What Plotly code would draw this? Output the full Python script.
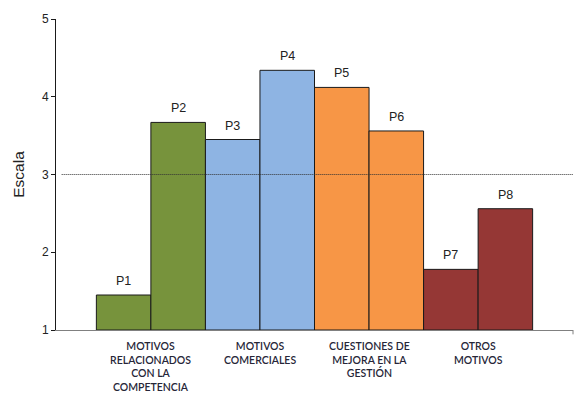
import plotly.graph_objects as go

# Scores per item, grouped two items per category
items = ["P1", "P2", "P3", "P4", "P5", "P6", "P7", "P8"]
scores = [1.45, 3.67, 3.45, 4.34, 4.12, 3.56, 1.78, 2.56]
categories = [
    "MOTIVOS<br>RELACIONADOS<br>CON LA<br>COMPETENCIA",
    "MOTIVOS<br>COMERCIALES",
    "CUESTIONES DE<br>MEJORA EN LA<br>GESTIÓN",
    "OTROS<br>MOTIVOS",
]
category_colors = ["#77933C", "#8EB4E3", "#F79646", "#953735"]
reference_level = 3

positions = list(range(len(items)))
bar_colors = [category_colors[i // 2] for i in positions]

SANS = "Liberation Sans"

fig = go.Figure(
    go.Bar(
        x=positions,
        y=[s - 1 for s in scores],
        base=1,
        width=1,
        marker=dict(color=bar_colors, line=dict(color="#1a1a1a", width=1)),
        hoverinfo="skip",
    )
)

# Item labels above each bar
for x, s, name in zip(positions, scores, items):
    fig.add_annotation(
        x=x, y=s, text=name, showarrow=False, yanchor="bottom", yshift=5,
        font=dict(family=SANS, size=12.5, color="#222222"),
    )

# Category labels under each pair of bars
for k, cat in enumerate(categories):
    fig.add_annotation(
        x=2 * k + 0.5, y=0, yref="paper", text=cat, showarrow=False,
        yanchor="top", yshift=-8, align="center",
        font=dict(family="Lato", size=10.5, color="#262638", weight=600),
    )

# Reference level
fig.add_shape(
    type="line", xref="paper", x0=0.011, x1=1, y0=reference_level, y1=reference_level,
    line=dict(color="#333333", width=1, dash="1px,1px"), layer="above",
)
# Closing tick at the end of the category axis
fig.add_shape(
    type="line", xref="paper", yref="paper", x0=1, x1=1, y0=0, y1=-0.014,
    line=dict(color="#808080", width=1),
)

fig.update_layout(
    width=574, height=402,
    margin=dict(l=56, r=1, t=19, b=72),
    paper_bgcolor="white", plot_bgcolor="white",
    showlegend=False,
    xaxis=dict(
        range=[-1.24, 8.24], showticklabels=False, showgrid=False, zeroline=False,
        showline=True, linecolor="#808080", linewidth=1, ticks="",
    ),
    yaxis=dict(
        range=[1, 5], dtick=1, showgrid=False, zeroline=False,
        showline=True, linecolor="#1a1a1a", linewidth=1,
        ticks="outside", ticklen=4, tickcolor="#1a1a1a",
        tickfont=dict(family=SANS, size=12, color="#222222"),
        title=dict(text="Escala", standoff=13,
                   font=dict(family=SANS, size=15.5, color="#222222")),
    ),
)

fig.write_html("out.html")
